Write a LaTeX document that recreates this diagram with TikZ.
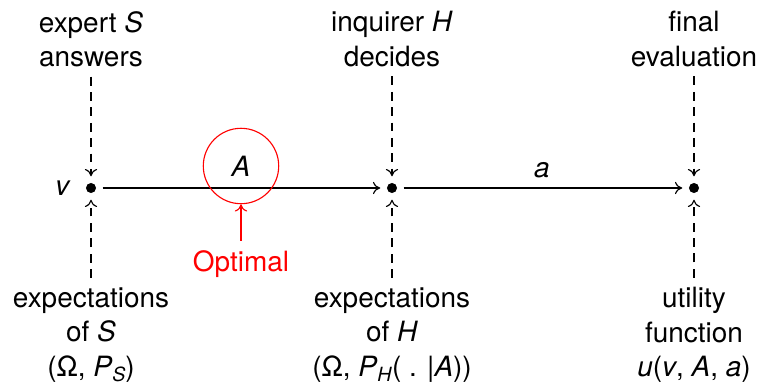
\documentclass[tikz,border=0pt]{standalone}
\usepackage{fontspec}
\setmainfont{TeX Gyre Heros}
\usepackage{xcolor}
\definecolor{Mark}{HTML}{FF0000}
\definecolor{Ink}{HTML}{000000}
\usetikzlibrary{arrows.meta}

\newcommand{\lowsub}[1]{\raisebox{-0.35ex}{\scriptsize\textit{#1}}}

\begin{document}
\begin{tikzpicture}[x=0.358pt,y=-0.358pt,
  stage/.style={circle,fill=Ink,inner sep=0pt,minimum size=3.6pt,outer sep=2.4pt},
  lbl/.style={align=center,font=\fontsize{10}{12.3}\selectfont},
  flow/.style={-{To[length=2.6pt,width=4.4pt]},line width=0.4pt},
  feed/.style={-{To[length=2.6pt,width=4.4pt]},line width=0.4pt,dash pattern=on 3.2pt off 2.3pt}]
\useasboundingbox (0,0) rectangle (762,390);
\foreach \n/\x/\up/\down in {
  s/91/{expert \textit{S}\\answers}/{expectations\\of \textit{S}\\(Ω, \textit{P}\lowsub{S})},
  h/392/{inquirer \textit{H}\\decides}/{expectations\\of \textit{H}\\(Ω, \textit{P}\lowsub{H}( . |\textit{A}))},
  e/694/{final\\evaluation}/{utility\\function\\\textit{u}(\textit{v}, \textit{A}, \textit{a})}}{
  \node[stage] (\n) at (\x,188) {};
  \node[lbl] (\n top) at (\x,39) {\up};
  \node[lbl] (\n bot) at (\x,335) {\down};
  \draw[feed] (\n top) -- (\n);
  \draw[feed] (\n bot) -- (\n);
}
\node[lbl] (v) at (63,188) {\textit{v}};
\draw[flow] (s) -- (h);
\draw[flow] (h) -- (e);
\node[lbl,circle,draw=Mark,minimum size=27pt,inner sep=0pt] (choice) at (241,166) {\textit{A}};
\node[lbl] (act) at (542,170) {\textit{a}};
\node[lbl,text=Mark] (opt) at (241,264) {Optimal};
\draw[flow,Mark] (opt) -- (choice);
\end{tikzpicture}
\end{document}
